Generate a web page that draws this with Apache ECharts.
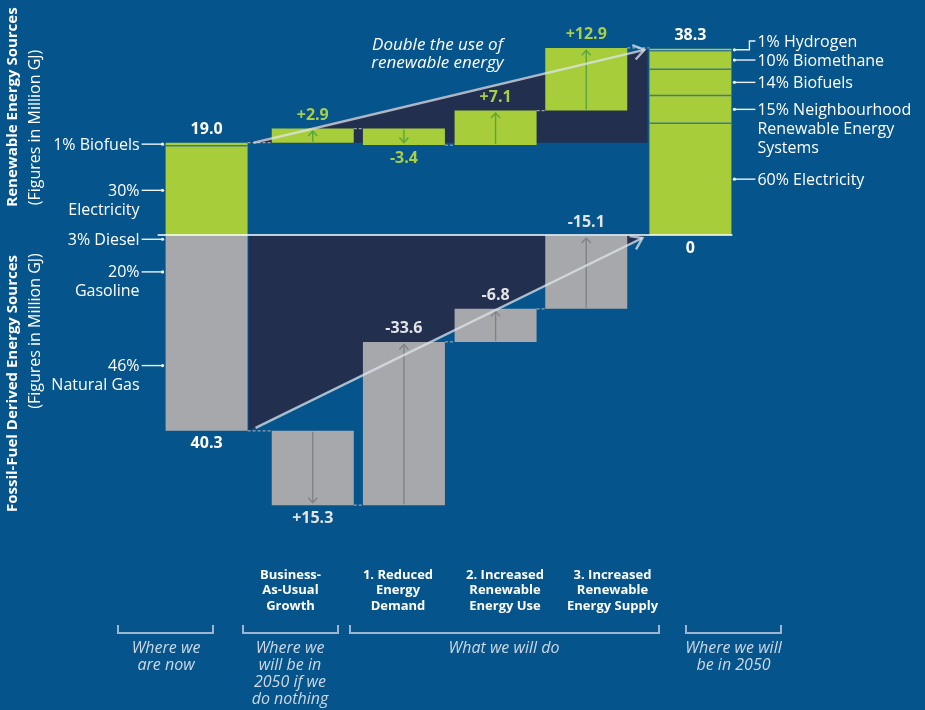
<!DOCTYPE html>
<html>
<head>
<meta charset="utf-8">
<script src="https://cdn.jsdelivr.net/npm/echarts@6/dist/echarts.min.js"></script>
<style>
html,body{margin:0;padding:0;background:#05548b;}
#c{width:925px;height:710px;}
</style>
</head>
<body>
<div id="c"></div>
<script>
// ---------------- DATA ----------------
const categories = ['Where we are now', 'Business-As-Usual Growth', '1. Reduced Energy Demand',
  '2. Increased Renewable Energy Use', '3. Increased Renewable Energy Supply', 'Where we will be in 2050'];
const renewableStart = 19.0;
const renewableSteps = [2.9, -3.4, 7.1, 12.9];
const renewableEnd = 38.3;
const fossilStart = 40.3;
const fossilSteps = [15.3, -33.6, -6.8, -15.1];
const fossilEnd = 0;
const nowRenewableNames = ['Biofuels', 'Electricity'];
const nowRenewablePct = [1, 30];
const nowFossilNames = ['Diesel', 'Gasoline', 'Natural Gas'];
const nowFossilPct = [3, 20, 46];
const futureNames = ['Hydrogen', 'Biomethane', 'Biofuels', 'Neighbourhood Renewable Energy Systems', 'Electricity'];
const futurePct = [1, 10, 14, 15, 60];
const stepTitles = ['Business-\nAs-Usual\nGrowth', '1. Reduced\nEnergy\nDemand', '2. Increased\nRenewable\nEnergy Use', '3. Increased\nRenewable\nEnergy Supply'];
const groupTitles = ['Where we\nare now', 'Where we\nwill be in\n2050 if we\ndo nothing', 'What we will do', 'Where we will\nbe in 2050'];

// ---------------- STYLE / LAYOUT ----------------
const FONT = '"Open Sans", "DejaVu Sans", sans-serif';
const C = {
  bg: '#05548b', navy: '#232f4f', green: '#a8cd3a', gray: '#a7a8ab',
  greenArrow: '#5aa53d', grayArrow: '#818386', sep: '#3e7a8a',
  white: '#ffffff', fossilText: '#e3e4e6', greenText: '#a9cf4a',
  trend: 'rgba(222,228,236,0.75)', dash: '#96a0ae', bracket: '#9db5cf', soft: '#cdd8e5'
};
const BAR_W = 82, HALF = BAR_W / 2;
const bandShift = [-5, 6, 2, -1.5, -6, 3];
const trendPad = [[6, 0, -5, 1], [8, -3, -7, 3]];
const LH = 19;
const LABEL_SIZE = 16;
const stepTitleX = [290.5, 398, 505, 612.5];
const brackets = [[118, 213], [243, 338], [350, 659], [686, 781]];
const groupTitleX = [166, 290, 504, 733.5];

// ---------------- DERIVED ----------------
function levels(start, steps) {
  const out = [start];
  steps.forEach(s => out.push(Math.round((out[out.length - 1] + s) * 10) / 10));
  return out;
}
const rLv = levels(renewableStart, renewableSteps);
const fLv = levels(fossilStart, fossilSteps).map(v => -v);
const fmtStep = v => (v > 0 ? '+' : '') + v.toFixed(1);
const fmtTotal = v => v === 0 ? '0' : v.toFixed(1);
const last = categories.length - 1;

const barRows = [[0, 0, renewableStart, 0], [0, -fossilStart, 0, 1]];
const arrowRows = [];
const dashRows = [];
for (let i = 1; i <= renewableSteps.length; i++) {
  barRows.push([i, Math.min(rLv[i - 1], rLv[i]), Math.max(rLv[i - 1], rLv[i]), 0]);
  barRows.push([i, Math.min(fLv[i - 1], fLv[i]), Math.max(fLv[i - 1], fLv[i]), 1]);
  arrowRows.push([i, rLv[i - 1], rLv[i], 0]);
  arrowRows.push([i, fLv[i - 1], fLv[i], 1]);
  dashRows.push([i - 1, rLv[i - 1]]);
  dashRows.push([i - 1, fLv[i - 1]]);
}
dashRows.push([renewableSteps.length, rLv[renewableSteps.length]]);
barRows.push([last, 0, renewableEnd, 0]);
if (fossilEnd > 0) barRows.push([last, -fossilEnd, 0, 1]);

const valueRows = [], valueTexts = [], valueColors = [];
function addValue(c, anchor, dir, text, color) { valueRows.push([c, anchor, dir]); valueTexts.push(text); valueColors.push(color); }
addValue(0, renewableStart, 1, fmtTotal(renewableStart), C.white);
addValue(0, -fossilStart, -1, fmtTotal(fossilStart), C.white);
for (let i = 1; i <= renewableSteps.length; i++) {
  addValue(i, rLv[i], rLv[i] > rLv[i - 1] ? 1 : -1, fmtStep(renewableSteps[i - 1]), C.greenText);
  addValue(i, fLv[i], fLv[i] > fLv[i - 1] ? 1 : -1, fmtStep(fossilSteps[i - 1]), C.fossilText);
}
addValue(last, renewableEnd, 1, fmtTotal(renewableEnd), C.white);
addValue(last, -fossilEnd, -1, fmtTotal(fossilEnd), C.white);

const pointerRows = [], pointerMeta = [], sepRows = [];
function addMix(cat, names, pct, total, above, side) {
  const sum = pct.reduce((a, b) => a + b, 0);
  let acc = 0;
  names.forEach((n, i) => {
    const a = total * acc / sum; acc += pct[i]; const b = total * acc / sum;
    const hi = above ? total - a : -a, lo = above ? total - b : -b;
    pointerRows.push([cat, (hi + lo) / 2, side, lo, hi]);
    pointerMeta.push({ name: n, pct: pct[i], idx: i, count: names.length });
    if (above && i < names.length - 1) sepRows.push([cat, lo]);
  });
}
addMix(0, nowRenewableNames, nowRenewablePct, renewableStart, true, -1);
addMix(0, nowFossilNames, nowFossilPct, fossilStart, false, -1);
addMix(last, futureNames, futurePct, renewableEnd, true, 1);

function wrapWords(s, n) {
  const lines = []; let cur = '';
  s.split(' ').forEach(t => {
    if (cur && (cur + ' ' + t).length > n) { lines.push(cur); cur = t; }
    else cur = cur ? cur + ' ' + t : t;
  });
  if (cur) lines.push(cur);
  return lines.join('\n');
}

// ---------------- HELPERS ----------------
function X(api, c) { return api.coord([c, 0])[0] + bandShift[c]; }
function Y(api, v) { return api.coord([0, v])[1]; }

function pointerInfo(api, k) {
  const m = pointerMeta[k], r = pointerRows[k];
  const py = Y(api, r[1]);
  let text;
  if (r[2] < 0) {
    const hpx = Math.abs(Y(api, r[3]) - Y(api, r[4]));
    text = m.pct + '%' + (hpx > 20 ? '\n' : ' ') + m.name;
  } else {
    text = wrapWords(m.pct + '% ' + m.name, 17);
  }
  return { text, lines: text.split('\n').length, py };
}
function textY(api, k) {
  const info = pointerInfo(api, k), m = pointerMeta[k];
  if (m.idx === m.count - 1) return info.py;
  return Math.min(info.py, textY(api, k + 1) - info.lines * LH);
}

// ---------------- CHART ----------------
const chart = echarts.init(document.getElementById('c'));
const txt = (extra) => Object.assign({ fill: C.white, fontFamily: FONT, fontSize: LABEL_SIZE }, extra);

chart.setOption({
  backgroundColor: C.bg,
  animation: false,
  grid: { left: 164, right: 190, top: 16.3, bottom: 183.4 },
  xAxis: { type: 'category', data: categories, show: false },
  yAxis: { type: 'value', min: -60, max: 45, show: false },
  series: [
    { // navy wedges
      type: 'custom', silent: true, z: 1,
      data: [[0, renewableStart, last, renewableEnd, 1], [0, -fossilStart, last, -fossilEnd, -1]],
      renderItem(params, api) {
        const c0 = api.value(0), v0 = api.value(1), c1 = api.value(2), v1 = api.value(3), s = api.value(4);
        const xa = X(api, c0) + HALF, xb = X(api, c1) - HALF - 2;
        const pts = s > 0
          ? [[xa, Y(api, v0)], [xb, Y(api, v1)], [xb, Y(api, v0)]]
          : [[xa + 1, Y(api, 0)], [xa + 1, Y(api, v0)], [xb, Y(api, v1)]];
        return { type: 'polygon', shape: { points: pts }, style: { fill: C.navy } };
      }
    },
    { // bars
      type: 'custom', silent: true, z: 2, data: barRows,
      renderItem(params, api) {
        const c = api.value(0), lo = api.value(1), hi = api.value(2), t = api.value(3);
        const y1 = Y(api, hi), y2 = Y(api, lo);
        return { type: 'rect', shape: { x: X(api, c) - HALF, y: y1, width: BAR_W, height: y2 - y1 },
          style: { fill: t === 0 ? C.green : C.gray } };
      }
    },
    { // mix separators
      type: 'custom', silent: true, z: 3, data: sepRows,
      renderItem(params, api) {
        const c = api.value(0), y = Y(api, api.value(1));
        return { type: 'line', shape: { x1: X(api, c) - HALF, y1: y, x2: X(api, c) + HALF, y2: y },
          style: { stroke: C.sep, lineWidth: 1.5, fill: 'none' } };
      }
    },
    { // step arrows inside bars
      type: 'custom', silent: true, z: 3, data: arrowRows,
      renderItem(params, api) {
        const c = api.value(0), t = api.value(3);
        const yf = Y(api, api.value(1)), yt = Y(api, api.value(2));
        const s = Math.sign(yt - yf);
        const a = yf + s * 1, b = yt - s * 2.5, x = X(api, c);
        const col = t === 0 ? C.greenArrow : C.grayArrow;
        return { type: 'group', children: [
          { type: 'line', shape: { x1: x, y1: a, x2: x, y2: b }, style: { stroke: col, lineWidth: 1.4, fill: 'none' } },
          { type: 'polyline', shape: { points: [[x - 4.5, b - s * 5], [x, b], [x + 4.5, b - s * 5]] },
            style: { stroke: col, lineWidth: 1.4, fill: 'none' } }
        ] };
      }
    },
    { // dashed connectors
      type: 'custom', silent: true, z: 3, data: dashRows,
      renderItem(params, api) {
        const c = api.value(0), y = Y(api, api.value(1));
        return { type: 'line', shape: { x1: X(api, c) + HALF, y1: y, x2: X(api, c + 1) - HALF, y2: y },
          style: { stroke: C.dash, lineWidth: 1.2, lineDash: [3, 2], fill: 'none' } };
      }
    },
    { // baseline
      type: 'custom', silent: true, z: 4, data: [[0, 0, last]],
      renderItem(params, api) {
        const y = Y(api, api.value(1));
        return { type: 'line', shape: { x1: X(api, api.value(0)) - HALF - 8, y1: y, x2: X(api, api.value(2)) + HALF + 1, y2: y },
          style: { stroke: C.white, lineWidth: 1.5, fill: 'none' } };
      }
    },
    { // trend arrows
      type: 'custom', silent: true, z: 5,
      data: [[0, renewableStart, last, renewableEnd], [0, -fossilStart, last, -fossilEnd]],
      renderItem(params, api) {
        const p = trendPad[params.dataIndex];
        const xs = X(api, api.value(0)) + HALF + p[0], ys = Y(api, api.value(1)) + p[1];
        const xe = X(api, api.value(2)) - HALF + p[2], ye = Y(api, api.value(3)) + p[3];
        const ang = Math.atan2(ye - ys, xe - xs), L = 13, w = 0.6;
        const h1 = [xe - L * Math.cos(ang - w), ye - L * Math.sin(ang - w)];
        const h2 = [xe - L * Math.cos(ang + w), ye - L * Math.sin(ang + w)];
        return { type: 'group', children: [
          { type: 'line', shape: { x1: xs, y1: ys, x2: xe, y2: ye }, style: { stroke: C.trend, lineWidth: 2.5, fill: 'none' } },
          { type: 'polyline', shape: { points: [h1, [xe, ye], h2] }, style: { stroke: C.trend, lineWidth: 2.5, fill: 'none' } }
        ] };
      }
    },
    { // value labels
      type: 'custom', silent: true, z: 6, data: valueRows,
      renderItem(params, api) {
        const i = params.dataIndex;
        const x = X(api, api.value(0)), y = Y(api, api.value(1)) - api.value(2) * 13;
        return { type: 'text', x: x, y: y,
          style: txt({ text: valueTexts[i], fill: valueColors[i], fontWeight: 'bold', align: 'center', verticalAlign: 'middle' }) };
      }
    },
    { // mix pointers + labels
      type: 'custom', silent: true, z: 6, data: pointerRows.map(r => [r[0], r[1]]),
      renderItem(params, api) {
        const k = params.dataIndex, r = pointerRows[k], side = r[2], c = r[0];
        const info = pointerInfo(api, k), ty = textY(api, k), py = info.py;
        const edge = side < 0 ? X(api, c) - HALF - 3 : X(api, c) + HALF + 3;
        const far = edge + side * 21;
        const ls = { stroke: '#eef2f6', lineWidth: 1.4, fill: 'none' };
        const children = [];
        if (Math.abs(ty - py) < 0.5) {
          children.push({ type: 'line', shape: { x1: edge, y1: py, x2: far, y2: py }, style: ls });
        } else {
          const mid = edge + side * 15;
          children.push({ type: 'polyline', shape: { points: [[edge, py], [mid, py], [mid, ty], [far, ty]] }, style: ls });
        }
        children.push({ type: 'circle', shape: { cx: edge, cy: py, r: 1.6 }, style: { fill: '#eef2f6' } });
        children.push({ type: 'text', x: far + side * 2, y: ty - 8.5,
          style: txt({ text: info.text, align: side < 0 ? 'right' : 'left', verticalAlign: 'top', lineHeight: LH }) });
        return { type: 'group', children };
      }
    }
  ],
  graphic: [
    { type: 'text', x: 12.5, y: 107, rotation: Math.PI / 2, silent: true,
      style: txt({ text: 'Renewable Energy Sources', fontWeight: 'bold', fontSize: 15, align: 'center', verticalAlign: 'middle' }) },
    { type: 'text', x: 35, y: 127.5, rotation: Math.PI / 2, silent: true,
      style: txt({ text: '(Figures in Million GJ)', fontSize: 16, align: 'center', verticalAlign: 'middle' }) },
    { type: 'text', x: 12.5, y: 383.5, rotation: Math.PI / 2, silent: true,
      style: txt({ text: 'Fossil-Fuel Derived Energy Sources', fontWeight: 'bold', fontSize: 15, align: 'center', verticalAlign: 'middle' }) },
    { type: 'text', x: 35, y: 331, rotation: Math.PI / 2, silent: true,
      style: txt({ text: '(Figures in Million GJ)', fontSize: 16, align: 'center', verticalAlign: 'middle' }) },
    { type: 'text', x: 437.5, y: 36, silent: true,
      style: txt({ text: 'Double the use of\nrenewable energy', fontStyle: 'italic', fontSize: 17, align: 'center', verticalAlign: 'top', lineHeight: 18 }) },
    { type: 'text', x: 411, y: 255, silent: true,
      style: txt({ text: 'Eliminate fossil-fuel use', fontStyle: 'italic', fontSize: 15, align: 'center', verticalAlign: 'middle' }) }
  ]
    .concat(stepTitles.map((t, i) => ({ type: 'text', x: stepTitleX[i], y: 567, silent: true,
      style: txt({ text: t, fontWeight: 'bold', fontSize: 13, align: 'center', verticalAlign: 'top', lineHeight: 15.8 }) })))
    .concat(brackets.map(b => ({ type: 'polyline', silent: true,
      shape: { points: [[b[0], 625], [b[0], 633], [b[1], 633], [b[1], 625]] },
      style: { stroke: C.bracket, lineWidth: 2, fill: 'none' } })))
    .concat(groupTitles.map((t, i) => ({ type: 'text', x: groupTitleX[i], y: 639.5, silent: true,
      style: txt({ text: t, fill: C.soft, fontStyle: 'italic', fontSize: 16, align: 'center', verticalAlign: 'top', lineHeight: 17 }) })))
});
</script>
</body>
</html>
